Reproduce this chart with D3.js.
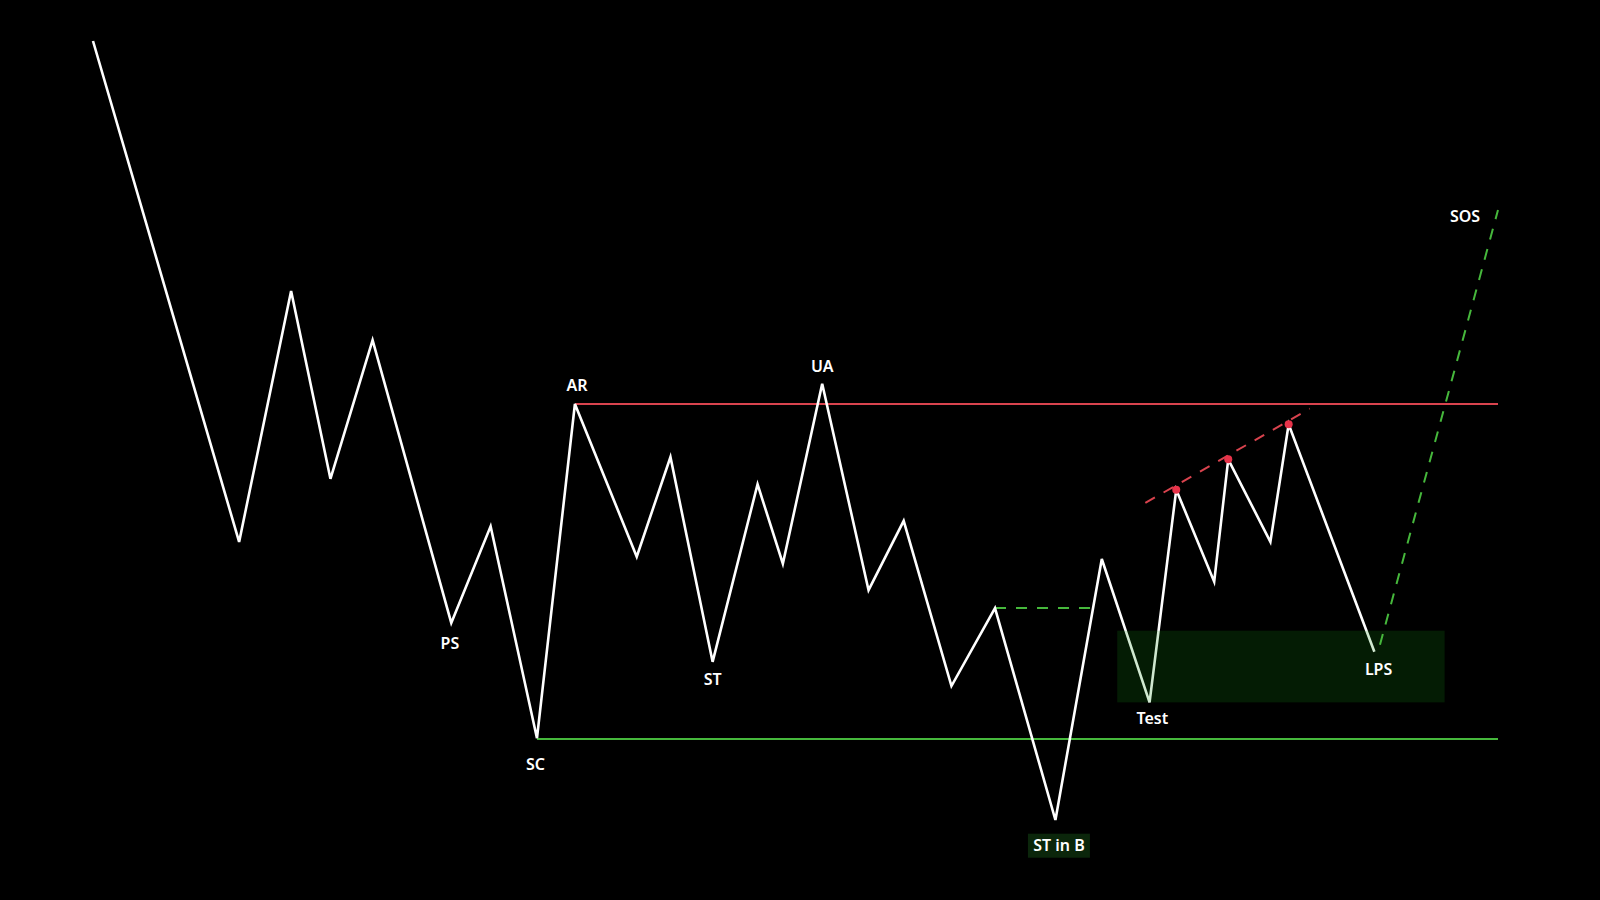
<!DOCTYPE html>
<html>
<head>
<meta charset="utf-8">
<script src="https://cdn.jsdelivr.net/npm/d3@7"></script>
<style>
    html, body {margin: 0; padding: 0; background: #000;}
    svg {display: block;}
    .lbl {font-family: "Noto Sans", sans-serif; font-size: 16px; font-weight: 600; fill: #fff;}
</style>
</head>
<body>
<div id="chart"></div>
<script>
// price path (bar index, price) of the wyckoff accumulation sketch
const pathT = [0, 10.4, 14.1, 16.9, 19.9, 25.5, 28.3, 31.6, 34.3, 38.7, 41.1, 44.1, 47.3, 49.1, 51.9,
    55.2, 57.7, 61.1, 64.2, 68.5, 71.8, 75.2, 77.1, 79.8, 80.8, 83.8, 85.1, 91.2];
const pathP = [100, 35.7, 67.9, 43.8, 61.6, 25.3, 37.7, 10.5, 53.4, 33.8, 46.6, 20.3, 43.1, 32.9, 56.0,
    29.5, 38.4, 17.2, 27.2, 0, 33.5, 15.1, 42.4, 30.6, 46.3, 35.7, 50.8, 21.6];

// range levels
const resistance = 53.4, support = 10.4, rangeEnd = 100;
// small minor resistance after ST in B
const minorLevel = {t0: 64.2, t1: 71.2, p: 27.2};
// LPS zone
const zone = {t0: 72.9, t1: 96.2, p0: 15.1, p1: 24.3};
// rising highs trendline and dotted peaks
const trend = {t0: 74.9, p0: 40.7, t1: 86.6, p1: 52.8};
const peakIdx = [22, 24, 26];
// projected sign of strength
const sos = {t0: 91.6, p0: 22.5, t1: 100, p1: 78.3};

const labels = [
    {text: "AR", t: 34.45, p: 55.8},
    {text: "UA", t: 51.9, p: 58.3},
    {text: "PS", t: 25.4, p: 22.7},
    {text: "SC", t: 31.5, p: 7.2},
    {text: "ST", t: 44.1, p: 18.1},
    {text: "ST in B", t: 68.75, p: -3.3, box: true},
    {text: "Test", t: 75.4, p: 13.0},
    {text: "LPS", t: 91.5, p: 19.4},
    {text: "SOS", t: 97.65, p: 77.5}
];

const width = 1600, height = 900;
const red = "#d9434e", green = "#46b83c";

const x = d3.scaleLinear().domain([0, 100]).range([93, 1498]);
const y = d3.scaleLinear().domain([0, 100]).range([820, 41]);

const svg = d3.select("#chart").append("svg")
    .attr("width", width)
    .attr("height", height);

svg.append("rect").attr("width", width).attr("height", height).attr("fill", "#000");

const line = d3.line().x(d => x(d[0])).y(d => y(d[1]));

// resistance / support
svg.append("line")
    .attr("x1", x(pathT[8])).attr("x2", x(rangeEnd))
    .attr("y1", y(resistance)).attr("y2", y(resistance))
    .attr("stroke", red).attr("stroke-width", 2);
svg.append("line")
    .attr("x1", x(pathT[7])).attr("x2", x(rangeEnd))
    .attr("y1", y(support)).attr("y2", y(support))
    .attr("stroke", green).attr("stroke-width", 2);

svg.append("line")
    .attr("x1", x(minorLevel.t0)).attr("x2", x(minorLevel.t1))
    .attr("y1", y(minorLevel.p)).attr("y2", y(minorLevel.p))
    .attr("stroke", green).attr("stroke-width", 2)
    .attr("stroke-dasharray", "11,10");

// price path
const pts = pathT.map((t, i) => [t, pathP[i]]);
svg.append("path")
    .attr("d", line(pts))
    .attr("fill", "none")
    .attr("stroke", "#fff")
    .attr("stroke-width", 2.6)
    .attr("stroke-linejoin", "miter");

// zone over the path (semi transparent)
svg.append("rect")
    .attr("x", x(zone.t0)).attr("width", x(zone.t1) - x(zone.t0))
    .attr("y", y(zone.p1)).attr("height", y(zone.p0) - y(zone.p1))
    .attr("fill", "rgba(20,140,20,0.2)");

// trendline of higher highs
svg.append("path")
    .attr("d", line([[trend.t0, trend.p0], [trend.t1, trend.p1]]))
    .attr("stroke", red).attr("stroke-width", 2)
    .attr("stroke-dasharray", "11,10");
svg.selectAll(".peak")
    .data(peakIdx)
    .enter().append("circle")
    .attr("class", "peak")
    .attr("cx", i => x(pathT[i]))
    .attr("cy", i => y(pathP[i]))
    .attr("r", 4)
    .attr("fill", "#e8334a");

// SOS projection
svg.append("path")
    .attr("d", line([[sos.t0, sos.p0], [sos.t1, sos.p1]]))
    .attr("stroke", green).attr("stroke-width", 2)
    .attr("stroke-dasharray", "11,10");

//labels
labels.forEach(l => {
    if (l.box) {
        svg.append("rect")
            .attr("x", x(l.t) - 31).attr("y", y(l.p) - 12)
            .attr("width", 62).attr("height", 24)
            .attr("fill", "#0b260b");
    }
    svg.append("text")
        .attr("class", "lbl")
        .attr("x", x(l.t))
        .attr("y", y(l.p))
        .attr("dy", "0.36em")
        .attr("text-anchor", "middle")
        .text(l.text);
});
</script>
</body>
</html>
